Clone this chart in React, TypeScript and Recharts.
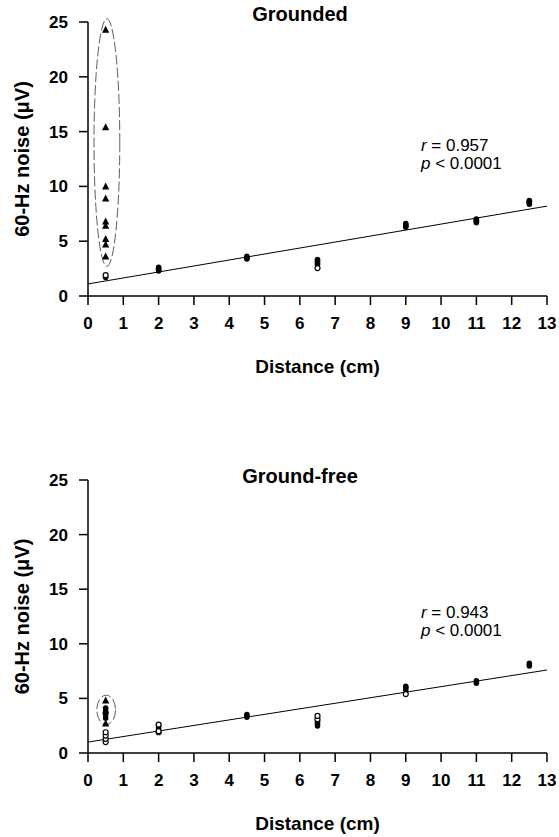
import { ScatterChart, Scatter, XAxis, YAxis, ReferenceLine, ReferenceArea, ReferenceDot } from "recharts";

const xTicks = [0, 1, 2, 3, 4, 5, 6, 7, 8, 9, 10, 11, 12, 13];
const yTicks = [0, 5, 10, 15, 20, 25];
const distances = [0.5, 2, 4.5, 6.5, 9, 11, 12.5];

// Grounded
const groundedFilled = [[1.7], [2.3, 2.4, 2.5, 2.6], [3.4, 3.5, 3.6], [2.9, 3.0, 3.2, 3.3], [6.3, 6.4, 6.5, 6.6], [6.7, 6.8, 6.9, 7.0], [8.4, 8.5, 8.6, 8.7]];
const groundedOpen = [[1.9], [], [], [2.55], [], [], []];
const groundedTriangles = [24.3, 15.4, 10.0, 8.9, 6.8, 6.4, 5.2, 4.7, 3.6];
const groundedFit = [1.1, 8.2];
const groundedOval = [0.17, 0.9, 2.7, 25.3];
const groundedStats = ["0.957", "0.0001"];

// Ground-free
const freeFilled = [[3.2, 3.5, 3.8, 4.1], [2.3, 2.5], [3.3, 3.4, 3.5], [2.5, 2.7, 2.9], [5.8, 6.0, 6.1], [6.4, 6.6], [8.0, 8.2]];
const freeOpen = [[1.0, 1.3, 1.6, 1.9], [1.9, 2.0, 2.6], [], [3.1, 3.4], [5.4], [], []];
const freeTriangles = [4.8, 3.9, 2.7];
const freeFit = [1.0, 7.6];
const freeOval = [0.25, 0.78, 2.6, 5.3];
const freeStats = ["0.943", "0.0001"];

const FONT = "'Liberation Sans', Arial, sans-serif";

const toPoints = (groups: number[][]) =>
  groups.flatMap((vals, i) => vals.map((y) => ({ x: distances[i], y })));

const Tri = (p: any) => (
  <polygon
    points={`${p.cx},${p.cy - 4} ${p.cx - 3.6},${p.cy + 3} ${p.cx + 3.6},${p.cy + 3}`}
    fill="#000"
  />
);
const Dot = (p: any) => <ellipse cx={p.cx} cy={p.cy} rx={2.8} ry={3} fill="#000" />;
const Ring = (p: any) => (
  <circle cx={p.cx} cy={p.cy} r={2.5} fill="#fff" stroke="#000" strokeWidth={1.2} />
);
const Oval = (p: any) => (
  <ellipse
    cx={p.x + p.width / 2}
    cy={p.y + p.height / 2}
    rx={p.width / 2}
    ry={p.height / 2}
    fill="none"
    stroke="#333"
    strokeWidth={0.8}
    strokeDasharray="10 3"
  />
);

const tickStyle = { fill: "#000", fontSize: 17, fontWeight: "bold", fontFamily: FONT };
const axisStroke = { stroke: "#000", strokeWidth: 1.5 };

function Panel(props: {
  top: number;
  height: number;
  marginTop: number;
  filled: number[][];
  open: number[][];
  triangles: number[];
  fit: number[];
  oval: number[];
  stats: string[];
  statsY: number;
}) {
  const { filled, open, triangles, fit, oval, stats } = props;
  const Stats = (p: any) => (
    <text x={p.cx} y={p.cy} fontFamily={FONT} fontSize={17} fill="#000">
      <tspan fontStyle="italic">r</tspan>
      <tspan> = {stats[0]}</tspan>
      <tspan x={p.cx} dy={18} fontStyle="italic">p</tspan>
      <tspan> &lt; {stats[1]}</tspan>
    </text>
  );
  return (
    <div style={{ position: "absolute", left: 0, top: props.top }}>
      <ScatterChart
        width={559}
        height={props.height}
        margin={{ top: props.marginTop, right: 12, bottom: 0, left: 0 }}
      >
        <XAxis
          type="number"
          dataKey="x"
          domain={[0, 13]}
          ticks={xTicks}
          interval={0}
          tick={tickStyle}
          tickSize={9}
          tickMargin={12}
          axisLine={axisStroke}
          tickLine={axisStroke}
          height={84}
          label={{
            value: "Distance (cm)",
            position: "insideBottom",
            offset: 7,
            style: { fill: "#000", fontSize: 19, fontWeight: "bold", fontFamily: FONT },
          }}
        />
        <YAxis
          type="number"
          dataKey="y"
          domain={[0, 25]}
          ticks={yTicks}
          interval={0}
          tick={tickStyle}
          tickSize={9}
          tickMargin={11}
          axisLine={axisStroke}
          tickLine={axisStroke}
          width={88}
          label={{
            value: "60-Hz noise (\u03bcV)",
            angle: -90,
            position: "insideLeft",
            offset: 22,
            style: { textAnchor: "middle", fill: "#000", fontSize: 20, fontWeight: "bold", fontFamily: FONT },
          }}
        />
        <ReferenceLine
          segment={[{ x: 0, y: fit[0] }, { x: 13, y: fit[1] }]}
          stroke="#000"
          strokeWidth={1}
        />
        <ReferenceArea
          x1={oval[0]}
          x2={oval[1]}
          y1={oval[2]}
          y2={oval[3]}
          ifOverflow="visible"
          shape={Oval}
        />
        <Scatter data={toPoints(filled)} shape={Dot} isAnimationActive={false} />
        <Scatter data={toPoints(open)} shape={Ring} isAnimationActive={false} />
        <Scatter
          data={triangles.map((y) => ({ x: distances[0], y }))}
          shape={Tri}
          isAnimationActive={false}
        />
        <ReferenceDot x={9.43} y={props.statsY} r={0} ifOverflow="visible" shape={Stats} />
      </ScatterChart>
    </div>
  );
}

export default function App() {
  const titleStyle = {
    position: "absolute" as const,
    left: 200,
    width: 200,
    textAlign: "center" as const,
    fontFamily: FONT,
    fontWeight: "bold",
    fontSize: 20,
    lineHeight: "22px",
  };
  return (
    <div style={{ position: "absolute", left: 0, top: 0, width: 559, height: 837, background: "#fff" }}>
      <Panel
        top={0}
        height={380}
        marginTop={22}
        filled={groundedFilled}
        open={groundedOpen}
        triangles={groundedTriangles}
        fit={groundedFit}
        oval={groundedOval}
        stats={groundedStats}
        statsY={13.2}
      />
      <Panel
        top={458}
        height={379}
        marginTop={22}
        filled={freeFilled}
        open={freeOpen}
        triangles={freeTriangles}
        fit={freeFit}
        oval={freeOval}
        stats={freeStats}
        statsY={12.4}
      />
      <div style={{ ...titleStyle, top: 3 }}>Grounded</div>
      <div style={{ ...titleStyle, top: 465 }}>Ground-free</div>
    </div>
  );
}
